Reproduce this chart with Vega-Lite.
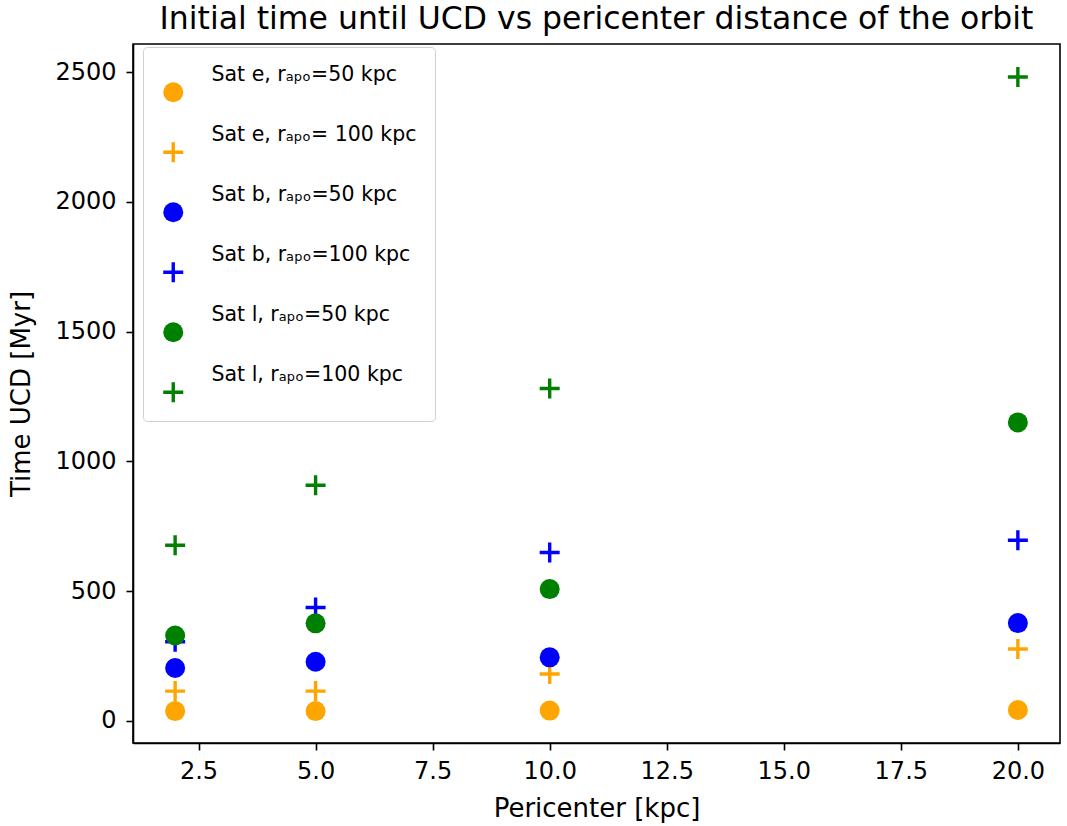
{
  "$schema": "https://vega.github.io/schema/vega-lite/v6.json",
  "autosize": {"type": "none"},
  "padding": {"left": 133, "top": 44, "right": 7, "bottom": 82},
  "width": 927,
  "height": 699,
  "background": "white",
  "title": {
    "text": "Initial time until UCD vs pericenter distance of the orbit",
    "font": "DejaVu Sans",
    "fontSize": 31.5,
    "fontWeight": "normal",
    "color": "black",
    "anchor": "middle",
    "offset": 9
  },
  "config": {
    "view": {"stroke": "black", "strokeWidth": 1.6},
    "style": {"guide-label": {"dy": -17}},
    "axis": {
      "labelFont": "DejaVu Sans",
      "titleFont": "DejaVu Sans",
      "labelFontSize": 24,
      "titleFontSize": 26,
      "titleFontWeight": "normal",
      "labelColor": "black",
      "titleColor": "black",
      "domainColor": "black",
      "tickColor": "black",
      "domainWidth": 1.6,
      "tickWidth": 1.6,
      "tickSize": 7,
      "grid": false
    },
    "legend": {
      "labelFont": "DejaVu Sans",
      "labelFontSize": 20.5,
      "labelColor": "black"
    }
  },
  "data": {
    "values": [
      {"series": "Sat e, rₐₚₒ=50 kpc", "peri": 2, "t": 38},
      {"series": "Sat e, rₐₚₒ=50 kpc", "peri": 5, "t": 38},
      {"series": "Sat e, rₐₚₒ=50 kpc", "peri": 10, "t": 40},
      {"series": "Sat e, rₐₚₒ=50 kpc", "peri": 20, "t": 42},
      {"series": "Sat e, rₐₚₒ= 100 kpc", "peri": 2, "t": 115},
      {"series": "Sat e, rₐₚₒ= 100 kpc", "peri": 5, "t": 115},
      {"series": "Sat e, rₐₚₒ= 100 kpc", "peri": 10, "t": 181},
      {"series": "Sat e, rₐₚₒ= 100 kpc", "peri": 20, "t": 277},
      {"series": "Sat b, rₐₚₒ=50 kpc", "peri": 2, "t": 204},
      {"series": "Sat b, rₐₚₒ=50 kpc", "peri": 5, "t": 228},
      {"series": "Sat b, rₐₚₒ=50 kpc", "peri": 10, "t": 245},
      {"series": "Sat b, rₐₚₒ=50 kpc", "peri": 20, "t": 377},
      {"series": "Sat b, rₐₚₒ=100 kpc", "peri": 2, "t": 305},
      {"series": "Sat b, rₐₚₒ=100 kpc", "peri": 5, "t": 437},
      {"series": "Sat b, rₐₚₒ=100 kpc", "peri": 10, "t": 649},
      {"series": "Sat b, rₐₚₒ=100 kpc", "peri": 20, "t": 696},
      {"series": "Sat l, rₐₚₒ=50 kpc", "peri": 2, "t": 329},
      {"series": "Sat l, rₐₚₒ=50 kpc", "peri": 5, "t": 376},
      {"series": "Sat l, rₐₚₒ=50 kpc", "peri": 10, "t": 508},
      {"series": "Sat l, rₐₚₒ=50 kpc", "peri": 20, "t": 1150},
      {"series": "Sat l, rₐₚₒ=100 kpc", "peri": 2, "t": 677},
      {"series": "Sat l, rₐₚₒ=100 kpc", "peri": 5, "t": 908},
      {"series": "Sat l, rₐₚₒ=100 kpc", "peri": 10, "t": 1281},
      {"series": "Sat l, rₐₚₒ=100 kpc", "peri": 20, "t": 2481}
    ]
  },
  "mark": {"type": "point", "filled": true, "opacity": 1, "size": 400, "strokeWidth": 0},
  "encoding": {
    "x": {
      "field": "peri",
      "type": "quantitative",
      "scale": {"domain": [1.1, 20.9], "nice": false, "zero": false},
      "axis": {"values": [2.5, 5, 7.5, 10, 12.5, 15, 17.5, 20], "format": ".1f", "title": "Pericenter [kpc]", "labelPadding": 26, "titlePadding": 12}
    },
    "y": {
      "field": "t",
      "type": "quantitative",
      "scale": {"domain": [-85, 2608], "nice": false, "zero": false},
      "axis": {"values": [0, 500, 1000, 1500, 2000, 2500], "format": "d", "title": "Time UCD [Myr]", "labelPadding": 10, "labelOffset": 17, "titlePadding": 20}
    },
    "color": {
      "field": "series",
      "type": "nominal",
      "sort": null,
      "scale": {
        "domain": ["Sat e, rₐₚₒ=50 kpc", "Sat e, rₐₚₒ= 100 kpc", "Sat b, rₐₚₒ=50 kpc", "Sat b, rₐₚₒ=100 kpc", "Sat l, rₐₚₒ=50 kpc", "Sat l, rₐₚₒ=100 kpc"],
        "range": ["#FFA500", "#FFA500", "#0000FF", "#0000FF", "#008000", "#008000"]
      },
      "legend": {
        "title": " ",
        "titleFontSize": 10,
        "titlePadding": 7,
        "orient": "none",
        "legendX": 10,
        "legendY": 3,
        "padding": 18,
        "symbolOffset": 2,
        "rowPadding": 22,
        "symbolSize": 400,
        "symbolStrokeWidth": 0,
        "labelOffset": 28,
        "labelBaseline": "middle",
        "strokeColor": "#d0d0d0",
        "fillColor": "white",
        "cornerRadius": 4,
        "labelLimit": 400
      }
    },
    "shape": {
      "field": "series",
      "type": "nominal",
      "sort": null,
      "scale": {
        "domain": ["Sat e, rₐₚₒ=50 kpc", "Sat e, rₐₚₒ= 100 kpc", "Sat b, rₐₚₒ=50 kpc", "Sat b, rₐₚₒ=100 kpc", "Sat l, rₐₚₒ=50 kpc", "Sat l, rₐₚₒ=100 kpc"],
        "range": ["circle", "M-1,-0.17H1V0.17H-1Z M-0.17,-1H0.17V1H-0.17Z", "circle", "M-1,-0.17H1V0.17H-1Z M-0.17,-1H0.17V1H-0.17Z", "circle", "M-1,-0.17H1V0.17H-1Z M-0.17,-1H0.17V1H-0.17Z"]
      }
    }
  }
}
